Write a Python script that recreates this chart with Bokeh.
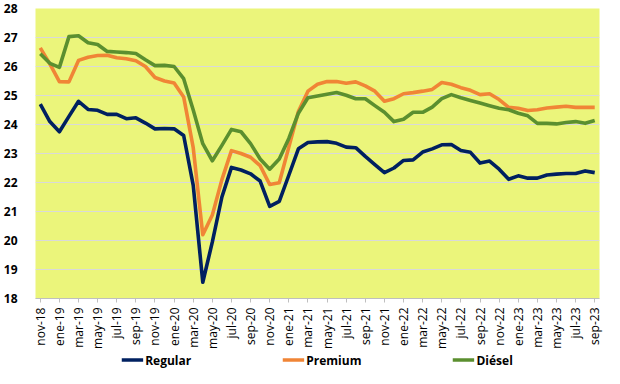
import math
from bokeh.plotting import figure
from bokeh.models import Legend, LegendItem, Range1d, FixedTicker
from bokeh.layouts import column
from bokeh.embed import file_html
from bokeh.resources import INLINE

months = ["nov-18", "dic-18", "ene-19", "feb-19", "mar-19", "abr-19", "may-19", "jun-19", "jul-19", "ago-19",
          "sep-19", "oct-19", "nov-19", "dic-19", "ene-20", "feb-20", "mar-20", "abr-20", "may-20", "jun-20",
          "jul-20", "ago-20", "sep-20", "oct-20", "nov-20", "dic-20", "ene-21", "feb-21", "mar-21", "abr-21",
          "may-21", "jun-21", "jul-21", "ago-21", "sep-21", "oct-21", "nov-21", "dic-21", "ene-22", "feb-22",
          "mar-22", "abr-22", "may-22", "jun-22", "jul-22", "ago-22", "sep-22", "oct-22", "nov-22", "dic-22",
          "ene-23", "feb-23", "mar-23", "abr-23", "may-23", "jun-23", "jul-23", "ago-23", "sep-23"]

regular = [24.7, 24.1, 23.75, 24.28, 24.8, 24.52, 24.49, 24.35, 24.35, 24.2,
           24.23, 24.05, 23.85, 23.86, 23.85, 23.62, 21.9, 18.56, 19.95, 21.5,
           22.52, 22.43, 22.3, 22.05, 21.18, 21.35, 22.25, 23.16, 23.38, 23.4,
           23.41, 23.35, 23.22, 23.2, 22.9, 22.62, 22.34, 22.5, 22.76, 22.78,
           23.05, 23.16, 23.3, 23.31, 23.1, 23.04, 22.67, 22.74, 22.46, 22.11,
           22.23, 22.15, 22.15, 22.26, 22.29, 22.31, 22.31, 22.4, 22.34]

premium = [26.64, 26.09, 25.48, 25.47, 26.21, 26.32, 26.38, 26.39, 26.3, 26.27,
           26.2, 26.0, 25.62, 25.5, 25.43, 24.95, 23.2, 20.2, 20.88, 22.1,
           23.1, 23.0, 22.87, 22.58, 21.93, 21.99, 23.22, 24.45, 25.15, 25.39,
           25.48, 25.48, 25.42, 25.47, 25.33, 25.15, 24.8, 24.89, 25.06, 25.1,
           25.15, 25.21, 25.45, 25.39, 25.27, 25.18, 25.03, 25.06, 24.86, 24.59,
           24.56, 24.48, 24.51, 24.57, 24.6, 24.63, 24.59, 24.59, 24.59]

diesel = [26.44, 26.11, 25.97, 27.03, 27.06, 26.82, 26.76, 26.52, 26.5, 26.48,
          26.45, 26.23, 26.03, 26.04, 26.0, 25.58, 24.5, 23.34, 22.75, 23.28,
          23.83, 23.75, 23.34, 22.81, 22.46, 22.81, 23.52, 24.39, 24.92, 24.98,
          25.04, 25.1, 25.01, 24.89, 24.89, 24.65, 24.42, 24.1, 24.18, 24.42,
          24.42, 24.6, 24.89, 25.03, 24.92, 24.83, 24.74, 24.65, 24.56, 24.51,
          24.39, 24.3, 24.04, 24.04, 24.02, 24.07, 24.1, 24.04, 24.14]

series_names = ["Regular", "Premium", "Diésel"]
series_colors = ["#002060", "#F08536", "#5B8F2F"]
series_values = [regular, premium, diesel]

x = list(range(len(months)))

p = figure(width=604, height=351, output_backend="svg", toolbar_location=None,
           x_range=Range1d(-0.5, len(months) - 0.5), y_range=Range1d(18, 28),
           min_border_left=28, min_border_right=5, min_border_top=8, min_border_bottom=40)
p.background_fill_color = "#EBF57B"
p.border_fill_color = "white"
p.outline_line_color = None

for vals, color in zip(series_values, series_colors):
    p.line(x, vals, line_color=color, line_width=3.6, line_join="round")

p.xgrid.grid_line_color = None
p.ygrid.grid_line_color = "#d9d9d9"
p.ygrid.grid_line_width = 1
p.yaxis.ticker = FixedTicker(ticks=list(range(18, 29)))
p.yaxis.axis_line_color = None
p.yaxis.major_tick_line_color = None
p.yaxis.minor_tick_line_color = None
p.yaxis.major_label_text_font = "Open Sans"
p.yaxis.major_label_text_font_style = "bold"
p.yaxis.major_label_text_font_size = "12px"
p.yaxis.major_label_text_color = "#000000"
p.yaxis.major_label_standoff = 12

tick_idx = x[::2]
p.xaxis.ticker = FixedTicker(ticks=tick_idx)
p.xaxis.major_label_overrides = {i: months[i] for i in tick_idx}
p.xaxis.major_label_orientation = math.pi / 2
p.xaxis.major_label_text_font = "Open Sans"
p.xaxis.major_label_text_font_size = "12px"
p.xaxis.major_label_text_color = "#000000"
p.xaxis.axis_line_color = "#bfbfbf"
p.xaxis.major_tick_line_color = "#bfbfbf"
p.xaxis.major_tick_in = 0
p.xaxis.major_tick_out = 4
p.xaxis.minor_tick_line_color = None
p.xaxis.major_label_standoff = 5

# legend strip below the chart (dummy lines lie outside its ranges, only the legend shows)
lg = figure(width=604, height=17, output_backend="svg", toolbar_location=None,
            x_range=Range1d(-0.5, len(months) - 0.5), y_range=Range1d(0, 1),
            min_border_left=14, min_border_right=0, min_border_top=0, min_border_bottom=0)
lg.axis.visible = False
lg.grid.visible = False
lg.outline_line_color = None
lg.background_fill_color = "white"
lg.border_fill_color = "white"
items = []
for name, vals, color in zip(series_names, series_values, series_colors):
    r = lg.line(x, vals, line_color=color, line_width=3.6)
    items.append(LegendItem(label=name, renderers=[r]))

legend = Legend(items=items, orientation="horizontal", location="center",
                label_text_font="Open Sans", label_text_font_style="bold",
                label_text_font_size="12px", label_text_color="#000000",
                glyph_width=22, glyph_height=14, label_height=14, label_standoff=2, spacing=91,
                border_line_color=None, background_fill_alpha=0,
                margin=0, padding=0)
lg.add_layout(legend, "center")

layout = column(p, lg, spacing=0)
open("out.html", "w").write(file_html(layout, INLINE))
